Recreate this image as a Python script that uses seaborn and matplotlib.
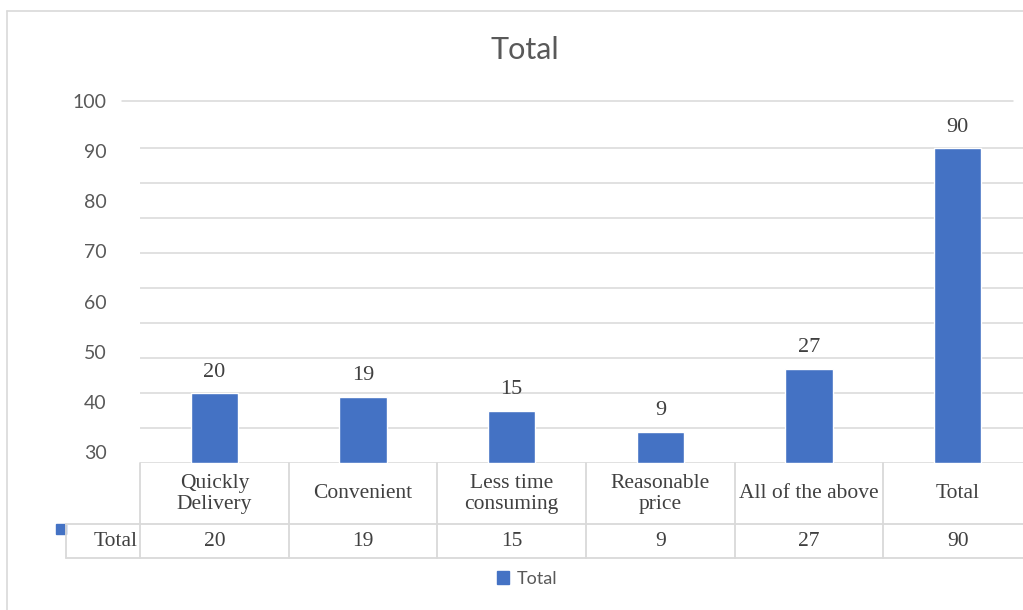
import matplotlib
matplotlib.use("Agg")
import matplotlib.pyplot as plt
import seaborn as sns
import pandas as pd
from matplotlib.patches import Rectangle, Patch
from matplotlib.lines import Line2D

# ---- data ----
categories = ["Quickly Delivery", "Convenient", "Less time consuming",
              "Reasonable price", "All of the above", "Total"]
header_labels = ["Quickly\nDelivery", "Convenient", "Less time\nconsuming",
                 "Reasonable\nprice", "All of the above", "Total"]
values = [20, 19, 15, 9, 27, 90]
series_name = "Total"
chart_title = "Total"
grid_ticks = list(range(0, 100, 10))
scale_ticks = list(range(30, 101, 10))

# ---- style ----
sns.set_style("white")
plt.rcParams["font.family"] = ["Lato", "DejaVu Sans"]
BAR = "#4472C4"
GRID = "#D9D9D9"
TXT = "#595959"
TABLE_TXT = "#404040"
SERIF = ["Liberation Serif", "DejaVu Serif"]

W, H = 1023, 610
fig = plt.figure(figsize=(W / 100, H / 100), dpi=100)


def px_box(left, top, right, bottom):
    return [left / W, 1 - bottom / H, (right - left) / W, (bottom - top) / H]


AX_TOP, AX_BOT = 101, 463
ax = fig.add_axes(px_box(140, AX_TOP, 1032, AX_BOT))


def ay(py):
    """pixel row -> axes fraction (negative below the plot area)"""
    return -(py - AX_BOT) / (AX_BOT - AX_TOP)


df = pd.DataFrame({"category": categories, "value": values})
sns.barplot(data=df, x="category", y="value", color=BAR, saturation=1,
            width=0.32, ax=ax)
ax.set_ylim(0, 103.43)
ax.set_xlim(-0.5, 5.5)
ax.set_yticks(grid_ticks)
ax.yaxis.grid(True, color=GRID, lw=1.1)
ax.set_axisbelow(True)
ax.set_xlabel("")
ax.set_ylabel("")
for s in ax.spines.values():
    s.set_visible(False)

# value labels above the bars
ax.bar_label(ax.containers[0], labels=[str(v) for v in values], padding=8,
             fontsize=16, family=SERIF, color=TABLE_TXT)

# scale labels on the left
ax2 = ax.twinx()
ax.tick_params(left=False, labelleft=False, right=False, labelright=False,
               bottom=False, labelbottom=False)
ax2.set_ylim(27.81, 100)
ax2.set_yticks(scale_ticks)
ax2.yaxis.tick_left()
ax2.tick_params(axis="y", length=0, pad=24, labelsize=14, labelcolor=TXT,
                right=False, labelright=False)
for s in ax2.spines.values():
    s.set_visible(False)
ax2.axhline(100, xmin=-0.0202, xmax=0.9787, color=GRID, lw=1.1, clip_on=False)

# ---- data table under the plot ----
xt = ax.get_xaxis_transform()
for xb in [k - 0.5 for k in range(len(categories))]:
    ax.plot([xb, xb], [ay(463), ay(558)], transform=xt, color=GRID, lw=1.3,
            clip_on=False)
for yb in (524, 558):
    ax.plot([-0.083, 1.0], [ay(yb), ay(yb)], transform=ax.transAxes,
            color=GRID, lw=1.3, clip_on=False)
ax.plot([-0.083, -0.083], [ay(524), ay(558)], transform=ax.transAxes,
        color=GRID, lw=1.3, clip_on=False)

for i, (lab, v) in enumerate(zip(header_labels, values)):
    ax.text(i, ay(494), lab, transform=xt, ha="center", va="center",
            fontsize=15.5, family=SERIF, color=TABLE_TXT, linespacing=1.15,
            multialignment="center")
    ax.text(i, ay(541), str(v), transform=xt, ha="center", va="center",
            fontsize=15.5, family=SERIF, color=TABLE_TXT)
ax.text(-0.515, ay(541), series_name, transform=xt, ha="right", va="center",
        fontsize=15.5, family=SERIF, color=TABLE_TXT)
ax.add_patch(Rectangle((-0.0942, ay(534)), 0.0112, 10 / (AX_BOT - AX_TOP),
                       transform=ax.transAxes, color=BAR, clip_on=False))

# ---- title, legend, frame ----
fig.text(525 / W, 1 - 50 / H, chart_title, ha="center", va="center",
         fontsize=22, color=TXT)
fig.legend(handles=[Patch(color=BAR)], labels=[series_name], loc="center",
           bbox_to_anchor=(527 / W, 1 - 579 / H), frameon=False,
           handlelength=0.7, handleheight=0.7, handletextpad=0.4,
           fontsize=13, labelcolor=TXT)
fig.add_artist(Line2D([7 / W, 7 / W], [0, 1 - 11 / H], color=GRID, lw=1.2))
fig.add_artist(Line2D([7 / W, 1], [1 - 11 / H, 1 - 11 / H], color=GRID, lw=1.2))

fig.savefig("out.png", dpi=100)
